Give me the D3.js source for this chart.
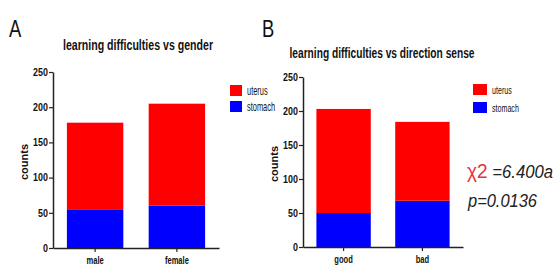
<!DOCTYPE html>
<html>
<head>
<meta charset="utf-8">
<script src="https://cdn.jsdelivr.net/npm/d3@7"></script>
<style>
  body { margin: 0; background: #fff; }
  svg { display: block; }
  text { font-family: "Liberation Sans", Arial, sans-serif; }
</style>
</head>
<body>
<svg width="558" height="267"></svg>
<script>
// data
var yTicks = [0, 50, 100, 150, 200, 250];
var seriesNames = ["uterus", "stomach"];

var genderCats = ["male", "female"];
var genderStomach = [55, 60];
var genderUterus = [123, 145];

var directionCats = ["good", "bad"];
var directionStomach = [50, 68];
var directionUterus = [153, 116];

var colors = { uterus: "#ff0000", stomach: "#0000ff" };

var svg = d3.select("svg");

// the original uses a narrow font, so squeeze the text horizontally
function squeeze(sel, ratio) {
  sel.each(function() {
    var w = this.getComputedTextLength();
    d3.select(this)
      .attr("textLength", w * ratio)
      .attr("lengthAdjust", "spacingAndGlyphs");
  });
}

function drawPanel(opts) {
  var g = svg.append("g");

  var x = d3.scaleBand()
      .domain(opts.cats)
      .range([opts.left, opts.right])
      .paddingInner(0.31)
      .paddingOuter(0.17);

  var y = d3.scaleLinear()
      .domain([0, 250])
      .range([opts.bottom, opts.top]);

  var rows = opts.cats.map(function(c, i) {
    return { cat: c, stomach: opts.stomach[i], uterus: opts.uterus[i] };
  });

  var stacked = d3.stack().keys(["stomach", "uterus"])(rows);

  g.selectAll("g.series")
    .data(stacked)
    .enter().append("g")
      .attr("class", "series")
      .attr("fill", function(d) { return colors[d.key]; })
    .selectAll("rect")
    .data(function(d) { return d; })
    .enter().append("rect")
      .attr("x", function(d) { return x(d.data.cat); })
      .attr("y", function(d) { return y(d[1]); })
      .attr("width", x.bandwidth())
      .attr("height", function(d) { return y(d[0]) - y(d[1]); });

  // y axis
  var ya = g.append("g")
      .attr("transform", "translate(" + opts.left + ",0)")
      .call(d3.axisLeft(y).tickValues(yTicks).tickSize(4).tickPadding(1).tickSizeOuter(0));
  ya.select(".domain").attr("stroke", "#222").attr("stroke-width", 1.5);
  ya.selectAll(".tick line").attr("stroke", "#222").attr("stroke-width", 1.2);
  ya.selectAll(".tick text")
      .attr("font-family", "Liberation Sans, Arial, sans-serif")
      .attr("font-weight", "bold")
      .attr("font-size", 10.5)
      .attr("fill", "#111")
      .call(squeeze, 0.85);

  // x axis
  var xa = g.append("g")
      .attr("transform", "translate(0," + opts.bottom + ")")
      .call(d3.axisBottom(x).tickSize(4).tickPadding(5).tickSizeOuter(0));
  xa.select(".domain").attr("stroke", "#222").attr("stroke-width", 1.5);
  xa.selectAll(".tick line").attr("stroke", "#222").attr("stroke-width", 1.2);
  xa.selectAll(".tick text")
      .attr("font-family", "Liberation Sans, Arial, sans-serif")
      .attr("font-weight", "bold")
      .attr("font-size", 10.5)
      .attr("fill", "#111")
      .call(squeeze, 0.72);

  // y label
  g.append("text")
      .attr("transform", "translate(" + opts.ylabelX + "," + ((opts.top + opts.bottom) / 2 + 2) + ") rotate(-90)")
      .attr("text-anchor", "middle")
      .attr("font-weight", "bold")
      .attr("font-size", 11)
      .attr("fill", "#111")
      .text("counts");

  // title
  g.append("text")
      .attr("x", opts.titleX)
      .attr("y", opts.titleY)
      .attr("text-anchor", "middle")
      .attr("font-weight", "bold")
      .attr("font-size", 14.5)
      .attr("fill", "#111")
      .attr("textLength", opts.titleW)
      .attr("lengthAdjust", "spacingAndGlyphs")
      .text(opts.title);

  // panel letter
  g.append("text")
      .attr("x", opts.letterX)
      .attr("y", opts.letterY)
      .attr("font-size", 23)
      .attr("fill", "#111")
      .text(opts.letter)
      .call(squeeze, 0.8);

  // legend
  var legend = g.selectAll("g.legend")
      .data(seriesNames)
      .enter().append("g")
      .attr("class", "legend")
      .attr("transform", function(d, i) { return "translate(" + opts.legendX + "," + (opts.legendY + i * opts.legendStep) + ")"; });

  legend.append("rect")
      .attr("width", opts.swatchW)
      .attr("height", 11)
      .attr("fill", function(d) { return colors[d]; });

  // narrow legend text via a horizontal scale
  legend.append("g")
      .attr("transform", "translate(" + (opts.swatchW + 5) + ",5.5) scale(0.62,1)")
    .append("text")
      .attr("dy", "0.35em")
      .attr("font-size", opts.legendFont)
      .attr("fill", "#111")
      .text(function(d) { return d; });
}

drawPanel({
  cats: genderCats, stomach: genderStomach, uterus: genderUterus,
  left: 53, right: 219, top: 72, bottom: 248,
  ylabelX: 28, title: "learning difficulties vs gender", titleX: 138, titleY: 50, titleW: 150,
  letter: "A", letterX: 9, letterY: 37,
  legendX: 230, legendY: 85, legendStep: 16, swatchW: 12, legendFont: 12
});

drawPanel({
  cats: directionCats, stomach: directionStomach, uterus: directionUterus,
  left: 303, right: 463, top: 77, bottom: 247,
  ylabelX: 278, title: "learning difficulties vs direction sense", titleX: 382, titleY: 58, titleW: 185,
  letter: "B", letterX: 262, letterY: 37,
  legendX: 473, legendY: 84, legendStep: 18, swatchW: 14, legendFont: 11.5
});

// statistics note
var note = svg.append("g")
    .attr("font-size", 17.5);

var line1 = note.append("text")
    .attr("x", 467)
    .attr("y", 178)
    .attr("textLength", 86)
    .attr("lengthAdjust", "spacingAndGlyphs");
line1.append("tspan").attr("fill", "#e8323c").attr("font-size", 20).text("\u03c72");
line1.append("tspan").attr("fill", "#222").attr("font-style", "italic").text(" =6.400a");

note.append("text")
    .attr("x", 468)
    .attr("y", 207)
    .attr("fill", "#222")
    .attr("font-style", "italic")
    .attr("textLength", 69)
    .attr("lengthAdjust", "spacingAndGlyphs")
    .text("p=0.0136");
</script>
</body>
</html>
